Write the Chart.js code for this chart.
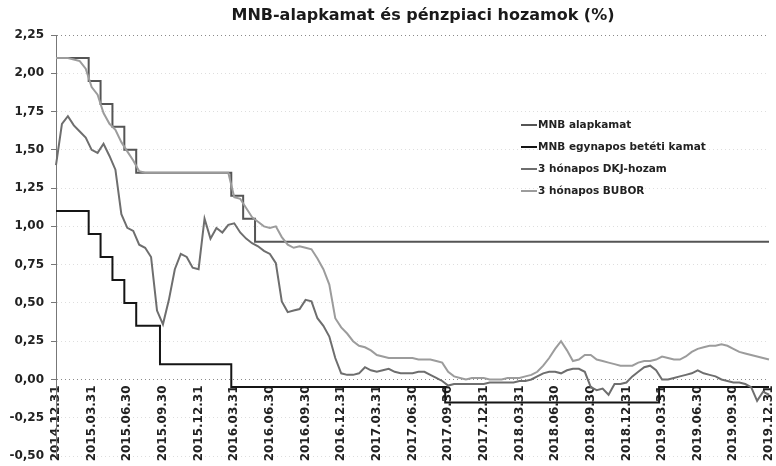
<!DOCTYPE html>
<html lang="hu">
<head>
<meta charset="utf-8">
<title>MNB-alapkamat és pénzpiaci hozamok</title>
<script src="https://cdn.jsdelivr.net/npm/chart.js@4.4.1/dist/chart.umd.min.js"></script>
<style>
  html, body { margin: 0; padding: 0; background: #fff; }
  #wrap { width: 776px; height: 466px; }
</style>
</head>
<body>
<div id="wrap"><canvas id="rateChart" width="776" height="466"></canvas></div>
<script>
// --- Data (half-month observations, 2014.12.31 - 2019.12.31) ---
const chartTitle = 'MNB-alapkamat és pénzpiaci hozamok (%)';
const seriesNames = ['MNB alapkamat', 'MNB egynapos betéti kamat', '3 hónapos DKJ-hozam', '3 hónapos BUBOR'];

// quarter-end labels shown on the category axis (every 6th point)
const tickLabels = [
  '2014.12.31', '2015.03.31', '2015.06.30', '2015.09.30', '2015.12.31',
  '2016.03.31', '2016.06.30', '2016.09.30', '2016.12.31', '2017.03.31',
  '2017.06.30', '2017.09.30', '2017.12.31', '2018.03.31', '2018.06.30',
  '2018.09.30', '2018.12.31', '2019.03.31', '2019.06.30', '2019.09.30', '2019.12.31'
];

// categories: month ends and mid-months
const categories = [];
for (let k = 0; k <= 120; k++) {
  const m = Math.ceil(k / 2);
  const yr = 2014 + Math.floor((11 + m) / 12);
  const mon = (11 + m) % 12 + 1;
  const day = k % 2 ? 15 : new Date(yr, mon, 0).getDate();
  categories.push(`${yr}.${String(mon).padStart(2, '0')}.${String(day).padStart(2, '0')}`);
}

const baseRate = [
  2.10, 2.10, 2.10, 2.10, 2.10, 2.10, 1.95, 1.95, 1.80, 1.80, 1.65, 1.65,
  1.50, 1.50, 1.35, 1.35, 1.35, 1.35, 1.35, 1.35, 1.35, 1.35, 1.35, 1.35,
  1.35, 1.35, 1.35, 1.35, 1.35, 1.35, 1.20, 1.20, 1.05, 1.05, 0.90, 0.90,
  0.90, 0.90, 0.90, 0.90, 0.90, 0.90, 0.90, 0.90, 0.90, 0.90, 0.90, 0.90,
  0.90, 0.90, 0.90, 0.90, 0.90, 0.90, 0.90, 0.90, 0.90, 0.90, 0.90, 0.90,
  0.90, 0.90, 0.90, 0.90, 0.90, 0.90, 0.90, 0.90, 0.90, 0.90, 0.90, 0.90,
  0.90, 0.90, 0.90, 0.90, 0.90, 0.90, 0.90, 0.90, 0.90, 0.90, 0.90, 0.90,
  0.90, 0.90, 0.90, 0.90, 0.90, 0.90, 0.90, 0.90, 0.90, 0.90, 0.90, 0.90,
  0.90, 0.90, 0.90, 0.90, 0.90, 0.90, 0.90, 0.90, 0.90, 0.90, 0.90, 0.90,
  0.90, 0.90, 0.90, 0.90, 0.90, 0.90, 0.90, 0.90, 0.90, 0.90, 0.90, 0.90,
  0.90
];

const depositRate = [
  1.10, 1.10, 1.10, 1.10, 1.10, 1.10, 0.95, 0.95, 0.80, 0.80, 0.65, 0.65,
  0.50, 0.50, 0.35, 0.35, 0.35, 0.35, 0.10, 0.10, 0.10, 0.10, 0.10, 0.10,
  0.10, 0.10, 0.10, 0.10, 0.10, 0.10, -0.05, -0.05, -0.05, -0.05, -0.05, -0.05,
  -0.05, -0.05, -0.05, -0.05, -0.05, -0.05, -0.05, -0.05, -0.05, -0.05, -0.05, -0.05,
  -0.05, -0.05, -0.05, -0.05, -0.05, -0.05, -0.05, -0.05, -0.05, -0.05, -0.05, -0.05,
  -0.05, -0.05, -0.05, -0.05, -0.05, -0.05, -0.15, -0.15, -0.15, -0.15, -0.15, -0.15,
  -0.15, -0.15, -0.15, -0.15, -0.15, -0.15, -0.15, -0.15, -0.15, -0.15, -0.15, -0.15,
  -0.15, -0.15, -0.15, -0.15, -0.15, -0.15, -0.15, -0.15, -0.15, -0.15, -0.15, -0.15,
  -0.15, -0.15, -0.15, -0.15, -0.15, -0.15, -0.05, -0.05, -0.05, -0.05, -0.05, -0.05,
  -0.05, -0.05, -0.05, -0.05, -0.05, -0.05, -0.05, -0.05, -0.05, -0.05, -0.05, -0.05,
  -0.05
];

const dkjYield = [
  1.40, 1.67, 1.72, 1.66, 1.62, 1.58, 1.50, 1.48, 1.54, 1.46, 1.37, 1.08,
  0.99, 0.97, 0.88, 0.86, 0.80, 0.45, 0.36, 0.52, 0.72, 0.82, 0.80, 0.73,
  0.72, 1.05, 0.92, 0.99, 0.96, 1.01, 1.02, 0.96, 0.92, 0.89, 0.87, 0.84,
  0.82, 0.76, 0.51, 0.44, 0.45, 0.46, 0.52, 0.51, 0.40, 0.35, 0.28, 0.14,
  0.04, 0.03, 0.03, 0.04, 0.08, 0.06, 0.05, 0.06, 0.07, 0.05, 0.04, 0.04,
  0.04, 0.05, 0.05, 0.03, 0.01, -0.01, -0.04, -0.03, -0.03, -0.03, -0.03, -0.03,
  -0.03, -0.02, -0.02, -0.02, -0.02, -0.02, -0.01, -0.01, 0.00, 0.02, 0.04, 0.05,
  0.05, 0.04, 0.06, 0.07, 0.07, 0.05, -0.05, -0.07, -0.06, -0.10, -0.03, -0.03,
  -0.02, 0.02, 0.05, 0.08, 0.09, 0.06, 0.00, 0.00, 0.01, 0.02, 0.03, 0.04,
  0.06, 0.04, 0.03, 0.02, 0.00, -0.01, -0.02, -0.02, -0.03, -0.05, -0.14, -0.08,
  -0.10
];

const bubor = [
  2.10, 2.10, 2.10, 2.09, 2.08, 2.03, 1.91, 1.86, 1.74, 1.67, 1.63, 1.55,
  1.49, 1.43, 1.36, 1.35, 1.35, 1.35, 1.35, 1.35, 1.35, 1.35, 1.35, 1.35,
  1.35, 1.35, 1.35, 1.35, 1.35, 1.35, 1.19, 1.18, 1.12, 1.06, 1.03, 1.00,
  0.99, 1.00, 0.93, 0.88, 0.86, 0.87, 0.86, 0.85, 0.79, 0.72, 0.62, 0.40,
  0.34, 0.30, 0.25, 0.22, 0.21, 0.19, 0.16, 0.15, 0.14, 0.14, 0.14, 0.14,
  0.14, 0.13, 0.13, 0.13, 0.12, 0.11, 0.05, 0.02, 0.01, 0.00, 0.01, 0.01,
  0.01, 0.00, 0.00, 0.00, 0.01, 0.01, 0.01, 0.02, 0.03, 0.05, 0.09, 0.14,
  0.20, 0.25, 0.19, 0.12, 0.13, 0.16, 0.16, 0.13, 0.12, 0.11, 0.10, 0.09,
  0.09, 0.09, 0.11, 0.12, 0.12, 0.13, 0.15, 0.14, 0.13, 0.13, 0.15, 0.18,
  0.20, 0.21, 0.22, 0.22, 0.23, 0.22, 0.20, 0.18, 0.17, 0.16, 0.15, 0.14,
  0.13
];

const lineColors = ['#555555', '#151515', '#6e6e6e', '#9c9c9c'];

// --- Plugins: title and in-plot legend ---
const titlePlugin = {
  id: 'titlePlugin',
  afterDraw(chart) {
    const { ctx } = chart;
    ctx.save();
    ctx.font = 'bold 16px "DejaVu Sans"';
    ctx.fillStyle = '#1a1a1a';
    ctx.textAlign = 'center';
    ctx.textBaseline = 'middle';
    ctx.fillText(chartTitle, 423, 16);
    ctx.restore();
  }
};

const legendPlugin = {
  id: 'legendPlugin',
  afterDraw(chart) {
    const { ctx } = chart;
    ctx.save();
    ctx.font = 'bold 10.5px "DejaVu Sans"';
    ctx.textBaseline = 'middle';
    chart.data.datasets.forEach((ds, i) => {
      const y = 125 + i * 22;
      ctx.strokeStyle = ds.borderColor;
      ctx.lineWidth = 2;
      ctx.beginPath();
      ctx.moveTo(521, y);
      ctx.lineTo(537, y);
      ctx.stroke();
      ctx.fillStyle = '#222';
      ctx.fillText(ds.label, 538, y);
    });
    ctx.restore();
  }
};

const makeSet = (i, data, stepped) => ({
  label: seriesNames[i],
  data,
  borderColor: lineColors[i],
  borderWidth: 2,
  pointRadius: 0,
  tension: 0,
  stepped: stepped ? 'middle' : false,
  order: 3 - i
});

new Chart(document.getElementById('rateChart'), {
  type: 'line',
  data: {
    labels: categories,
    datasets: [
      makeSet(0, baseRate, true),
      makeSet(1, depositRate, true),
      makeSet(2, dkjYield, false),
      makeSet(3, bubor, false)
    ]
  },
  options: {
    responsive: false,
    animation: false,
    layout: { padding: { left: 0, top: 35, right: 7, bottom: 10 } },
    plugins: {
      legend: { display: false },
      title: { display: false },
      tooltip: { enabled: false }
    },
    scales: {
      x: {
        position: { y: 0 },
        afterFit: (scale) => { scale.paddingLeft = 0; scale.paddingRight = 0; },
        grid: { display: false, drawTicks: false },
        border: { display: false },
        ticks: {
          autoSkip: false,
          minRotation: 90,
          maxRotation: 90,
          padding: 6,
          color: '#222',
          font: { family: 'DejaVu Sans', size: 12, weight: 'bold' },
          callback: (value, index) => (index % 6 === 0 ? tickLabels[index / 6] : null)
        }
      },
      y: {
        min: -0.5,
        max: 2.25,
        afterFit: (scale) => { scale.width = 56; scale.paddingTop = 0; scale.paddingBottom = 0; },
        grid: {
          color: (c) => (c.tick.value === 0 || c.tick.value === 2.25) ? '#8a8a8a' : 'rgba(0,0,0,0.13)',
          tickColor: '#777',
          tickLength: 5
        },
        border: { display: true, color: '#777', width: 1, dash: [1, 3] },
        ticks: {
          stepSize: 0.25,
          padding: 7,
          color: '#222',
          font: { family: 'DejaVu Sans', size: 12, weight: 'bold' },
          callback: (v) => v.toFixed(2).replace('.', ',')
        }
      }
    }
  },
  plugins: [titlePlugin, legendPlugin]
});
</script>
</body>
</html>
